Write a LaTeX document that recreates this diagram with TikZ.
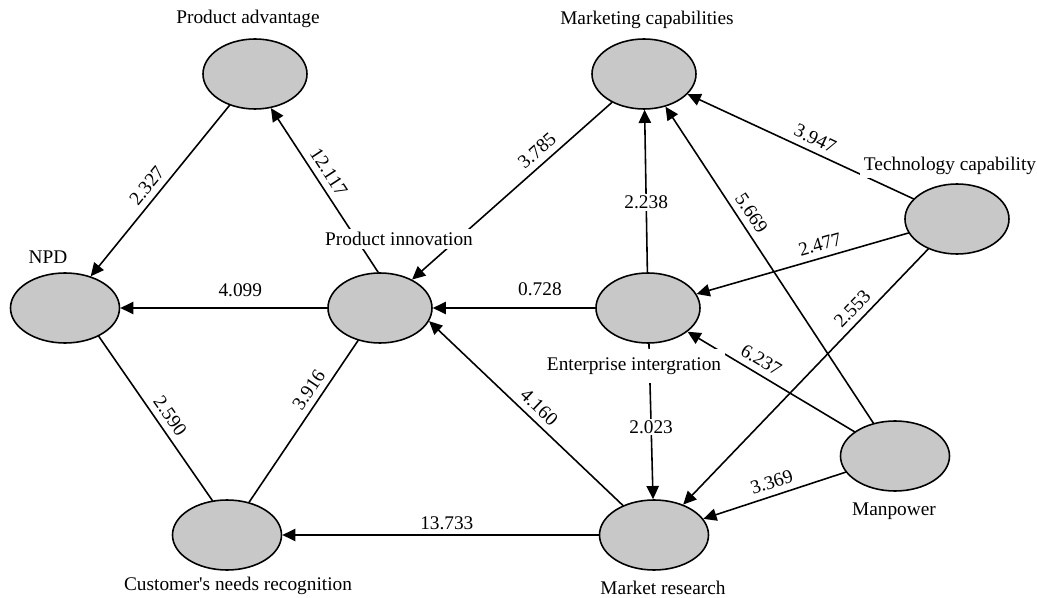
\documentclass[tikz,border=0pt]{standalone}
\usepackage{fontspec}
\setmainfont{Liberation Serif}
\usetikzlibrary{arrows.meta,shapes.geometric}
\definecolor{factorgray}{RGB}{200,200,200}
\tikzset{
  every node/.style={font=\fontsize{11pt}{13pt}\selectfont},
  factor/.style={ellipse, draw=black, fill=factorgray, line width=0.9pt,
    minimum width=2.08cm, minimum height=1.4cm, inner sep=0pt},
  wide factor/.style={factor, minimum width=2.18cm},
  name tag/.style={fill=white, inner sep=2pt},
  link/.style={line width=0.9pt},
  path link/.style={link, -{Triangle[length=7.5pt, width=7pt]}},
  weight/.style={above, sloped, inner sep=3.5pt},
  on weight/.style={fill=white, inner sep=1pt}
}

\begin{document}
\begin{tikzpicture}[line cap=round,line join=round]
  \useasboundingbox (0,0) rectangle (20.74,11.94);

  % constructs
  \node[factor] (pa) at (5.10,10.46) {};
  \node[wide factor] (npd) at (1.30,5.78) {};
  \node[factor] (pi) at (7.60,5.78) {};
  \node[wide factor] (cn) at (4.54,1.24) {};
  \node[factor] (mc) at (12.88,10.46) {};
  \node[factor] (tc) at (19.14,7.56) {};
  \node[factor] (ei) at (12.96,5.78) {};
  \node[wide factor] (mr) at (13.08,1.24) {};
  \node[wide factor] (mp) at (17.90,2.82) {};

  % paths with t-values
  \draw[path link] (pa) -- node[weight, pos=0.52] {2.327} (npd);
  \draw[path link] (pi.93) -- node[weight, pos=0.565] {12.117} (pa.-65);
  \draw[path link] (mc) -- node[weight, pos=0.33] {3.785} (pi);
  \draw[path link] (pi) -- node[weight, pos=0.42, yshift=2.5pt] {4.099} (npd);
  \draw[path link] (ei) -- node[weight, pos=0.34, yshift=3pt] {0.728} (pi);
  \draw[link] (npd.-40) -- node[weight, pos=0.53] {2.590} (cn.113);
  \draw[link] (pi) -- node[weight, pos=0.35] {3.916} (cn);
  \draw[path link] (mr) -- node[weight, pos=0.48, yshift=-1pt] {13.733} (cn);
  \draw[path link] (mr) -- node[weight, pos=0.48] {4.160} (pi.-15);
  \draw[path link] (ei) -- node[on weight, pos=0.43] {2.238} (mc);
  \draw[path link] (ei) -- node[on weight, pos=0.535] {2.023} (mr);
  \draw[path link] (tc) -- node[weight, pos=0.46] {3.947} (mc);
  \draw[path link] (tc) -- node[weight, pos=0.40] {2.477} (ei);
  \draw[path link] (tc) -- node[weight, pos=0.27] {2.553} (mr);
  \draw[path link] (mp) -- node[weight, pos=0.64] {5.669} (mc);
  \draw[path link] (mp) -- node[weight, pos=0.60] {6.237} (ei);
  \draw[path link] (mp) -- node[weight, pos=0.49] {3.369} (mr);

  % construct names
  \node[name tag] (pa name) at (4.96,11.56) {Product advantage};
  \node[name tag] (npd name) at (0.96,6.80) {NPD};
  \node[name tag] (pi name) at (7.98,7.16) {Product innovation};
  \node[name tag] (cn name) at (4.76,0.22) {Customer\textquotesingle s needs recognition};
  \node[name tag] (mc name) at (12.94,11.54) {Marketing capabilities};
  \node[name tag] (tc name) at (19.00,8.62) {Technology capability};
  \node[name tag, inner ysep=5pt] (ei name) at (12.68,4.62) {Enterprise intergration};
  \node[name tag] (mr name) at (13.26,0.18) {Market research};
  \node[name tag] (mp name) at (17.88,1.72) {Manpower};
\end{tikzpicture}
\end{document}
